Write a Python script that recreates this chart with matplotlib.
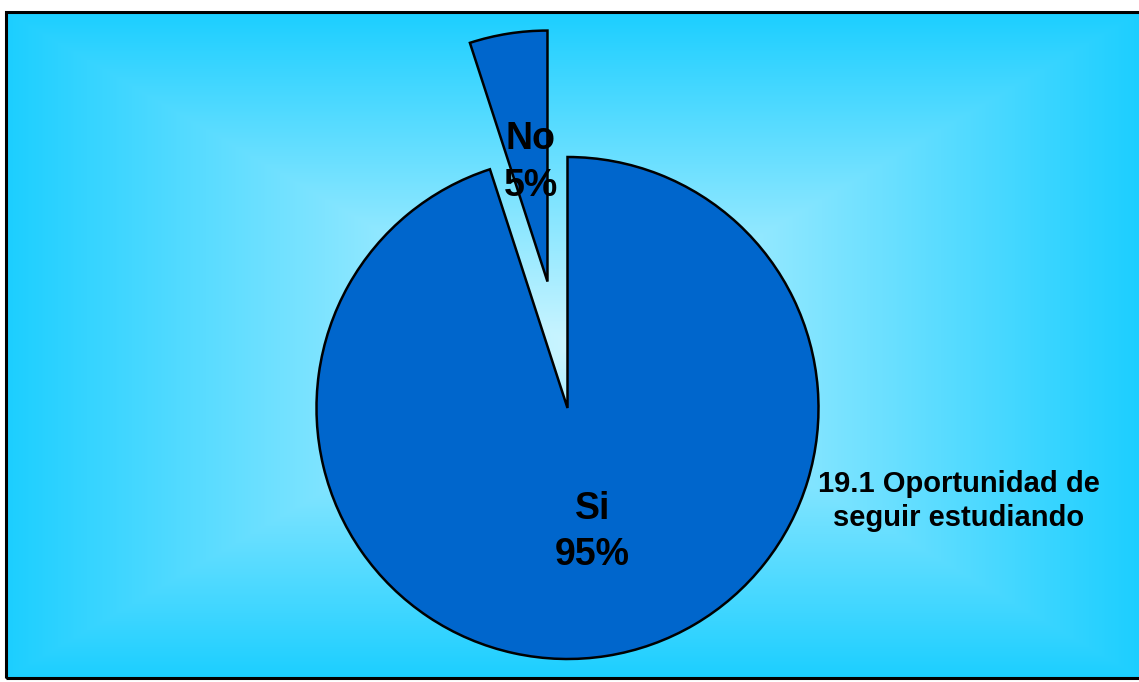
import numpy as np
import matplotlib.pyplot as plt
from matplotlib.patches import Rectangle

labels = ['Si', 'No']
values = [95, 5]
title = '19.1 Oportunidad de\nseguir estudiando'

W, H = 1139, 682
fig = plt.figure(figsize=(W / 100, H / 100), dpi=100)

# background axes in pixel units
bg = fig.add_axes([0, 0, 1, 1])
x0, x1, y0, y1 = 6, W + 2, 4, 670
gx = np.linspace(-1, 1, 800)
gy = np.linspace(-1, 1, 500)
X, Y = np.meshgrid(gx, gy)
t = np.maximum(np.abs(X), np.abs(Y))
inner = np.array([0.80, 0.96, 1.0])
outer = np.array([0.11, 0.81, 1.0])
img = inner + (outer - inner) * t[..., None]
bg.imshow(img, extent=(x0, x1, y0, y1), origin='lower', aspect='auto', zorder=0)
bg.add_patch(Rectangle((x0, y0), x1 - x0, y1 - y0, fill=False, ec='black', lw=2.2, zorder=1))
bg.set_xlim(0, W)
bg.set_ylim(0, H)
bg.axis('off')

# pie axes, radius 1 -> 251 px, centre at (567.5, 274) px
r = 251.0
cx, cy = 567.5, 274.0
ax = fig.add_axes([0, 0, 1, 1])
ax.patch.set_alpha(0)
wedges, texts = ax.pie(values, labels=[f'{l}\n{v}%' for l, v in zip(labels, values)],
                       explode=[0, 0.51], startangle=90, counterclock=False,
                       labeldistance=0.5, colors=['#0066CC', '#0066CC'],
                       wedgeprops=dict(edgecolor='black', linewidth=1.8),
                       textprops=dict(fontsize=27, fontweight='bold', family='Liberation Sans',
                                      linespacing=1.38))
for tx in texts:
    tx.set_ha('center')
    tx.set_va('center')
# small nudges to sit like the original labels
sx, sy = texts[0].get_position()
texts[0].set_position((sx + 0.02, sy))
nx, ny = texts[1].get_position()
texts[1].set_position((nx + 0.012, ny - 0.02))
ax.set_aspect('auto')
ax.set_xlim(-cx / r, (W - cx) / r)
ax.set_ylim(-cy / r, (H - cy) / r)
ax.axis('off')

fig.text(959 / W, 181 / H, title, ha='center', va='center', fontsize=21,
         fontweight='bold', family='Liberation Sans', linespacing=1.25)

fig.savefig('out.png', dpi=100)
